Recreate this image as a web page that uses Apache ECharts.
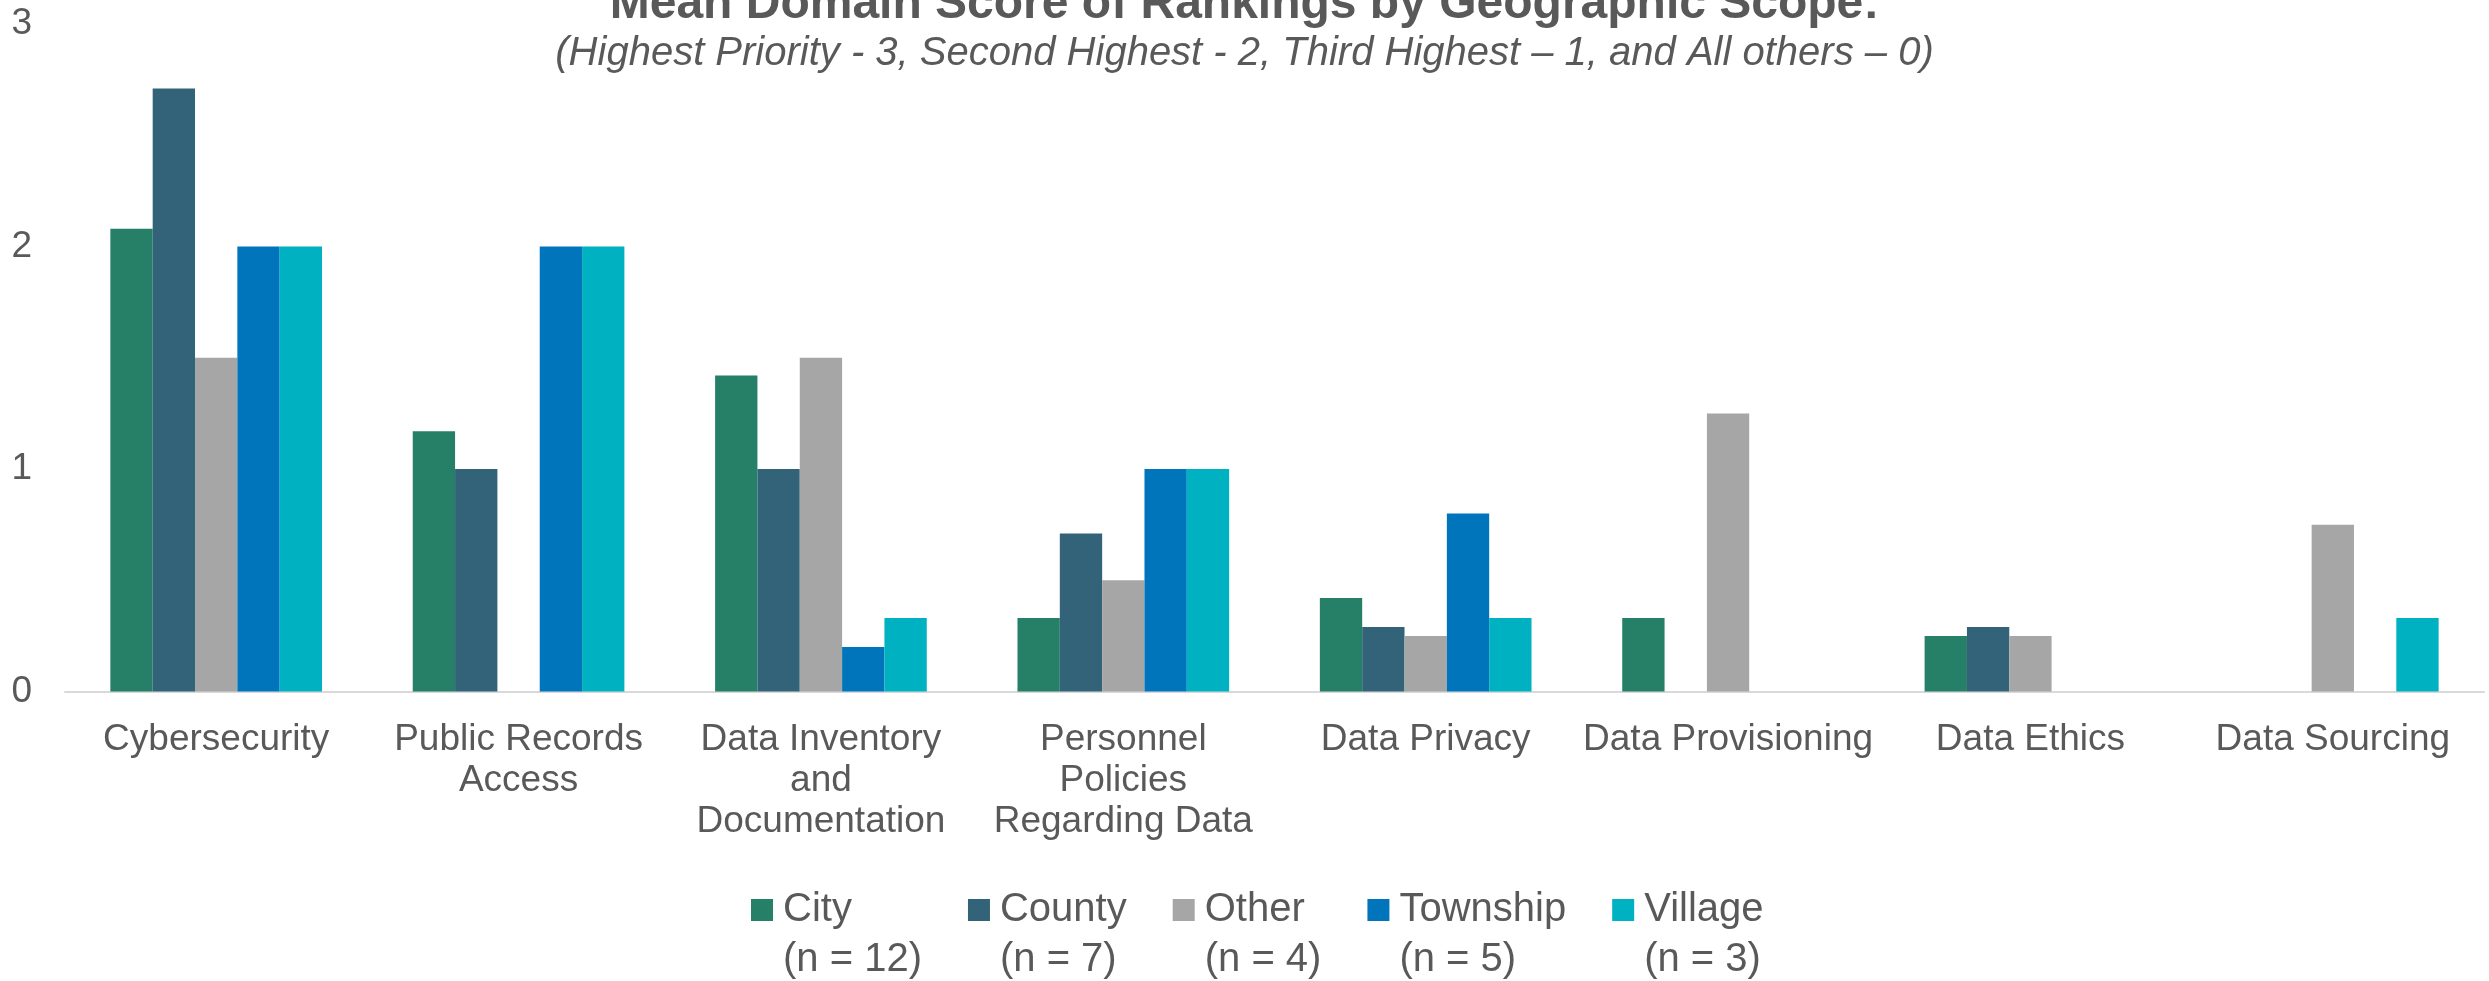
<!DOCTYPE html>
<html lang="en">
<head>
    <meta charset="UTF-8">
    <title>Mean Domain Score of Rankings by Geographic Scope</title>
    <script src="https://cdn.jsdelivr.net/npm/echarts@6/dist/echarts.min.js"></script>
    <style>
        html, body { margin: 0; padding: 0; background: #fff; }
    </style>
</head>
<body>

    <div id="main" style="width: 2489px;height:981px;"></div>

    <script type="text/javascript">
        // categories (line breaks as wrapped in the original)
        var categories = [
            'Cybersecurity',
            'Public Records\nAccess',
            'Data Inventory\nand\nDocumentation',
            'Personnel\nPolicies\nRegarding Data',
            'Data Privacy',
            'Data Provisioning',
            'Data Ethics',
            'Data Sourcing'
        ];

        // mean scores per geographic scope
        var city     = [2.08, 1.17, 1.42, 0.33, 0.42, 0.33, 0.25, 0];
        var county   = [2.71, 1.00, 1.00, 0.71, 0.29, 0,    0.29, 0];
        var other    = [1.50, 0,    1.50, 0.50, 0.25, 1.25, 0.25, 0.75];
        var township = [2.00, 2.00, 0.20, 1.00, 0.80, 0,    0,    0];
        var village  = [2.00, 2.00, 0.33, 1.00, 0.33, 0,    0,    0.33];

        var seriesNames = ['City', 'County', 'Other', 'Township', 'Village'];
        var sampleSizes = ['(n = 12)', '(n = 7)', '(n = 4)', '(n = 5)', '(n = 3)'];
        var colors = ['#267f67', '#336379', '#a6a6a6', '#0075bc', '#00b2c1'];
        var yTicks = [0, 1, 2, 3];

        var textColor = '#595959';
        var font = 'Liberation Sans, Arial, sans-serif';

        var myChart = echarts.init(document.getElementById('main'));

        var allData = [city, county, other, township, village];
        var series = seriesNames.map(function (name, i) {
            return {
                name: name,
                type: 'bar',
                data: allData[i],
                barGap: '0%',
                barCategoryGap: '30%',
                itemStyle: { color: colors[i] }
            };
        });

        var option = {
            animation: false,
            color: colors,
            textStyle: { fontFamily: font, color: textColor },
            title: [{
                text: 'Mean Domain Score of Rankings by Geographic Scope:',
                left: 'center',
                top: -24,
                textStyle: {
                    fontFamily: font, fontSize: 48, fontWeight: 'bold',
                    color: textColor, lineHeight: 48
                }
            }, {
                text: '(Highest Priority - 3, Second Highest - 2, Third Highest \u2013 1, and All others \u2013 0)',
                left: 'center',
                top: 29,
                textStyle: {
                    fontFamily: font, fontSize: 40, fontWeight: 'normal',
                    fontStyle: 'italic', color: textColor, lineHeight: 40
                }
            }],
            legend: {
                left: 746,
                top: 880,
                padding: 5,
                itemGap: 46,
                itemWidth: 27,
                itemHeight: 72,
                // square sits at the top of the icon box so it lines up with the first text line
                icon: 'path://M0,0h22v22h-22z M27,72',
                data: seriesNames,
                formatter: function (name) {
                    return name + '\n' + sampleSizes[seriesNames.indexOf(name)];
                },
                textStyle: {
                    fontFamily: font, fontSize: 40, color: textColor, lineHeight: 50
                }
            },
            grid: {
                left: 65,
                right: 5,
                top: 24,
                bottom: 289.5,
                containLabel: false
            },
            xAxis: {
                type: 'category',
                data: categories,
                axisLine: { lineStyle: { color: '#d9d9d9', width: 2 } },
                axisTick: { show: false },
                axisLabel: {
                    interval: 0,
                    margin: 28,
                    fontFamily: font,
                    fontSize: 37,
                    lineHeight: 41,
                    color: textColor,
                    align: 'center'
                }
            },
            yAxis: {
                type: 'value',
                min: yTicks[0],
                max: yTicks[yTicks.length - 1],
                interval: 1,
                splitLine: { show: false },
                axisLine: { show: false },
                axisTick: { show: false },
                axisLabel: {
                    margin: 33,
                    fontFamily: font,
                    fontSize: 37,
                    color: textColor
                }
            },
            series: series
        };

        myChart.setOption(option);
    </script>
</body>
</html>
